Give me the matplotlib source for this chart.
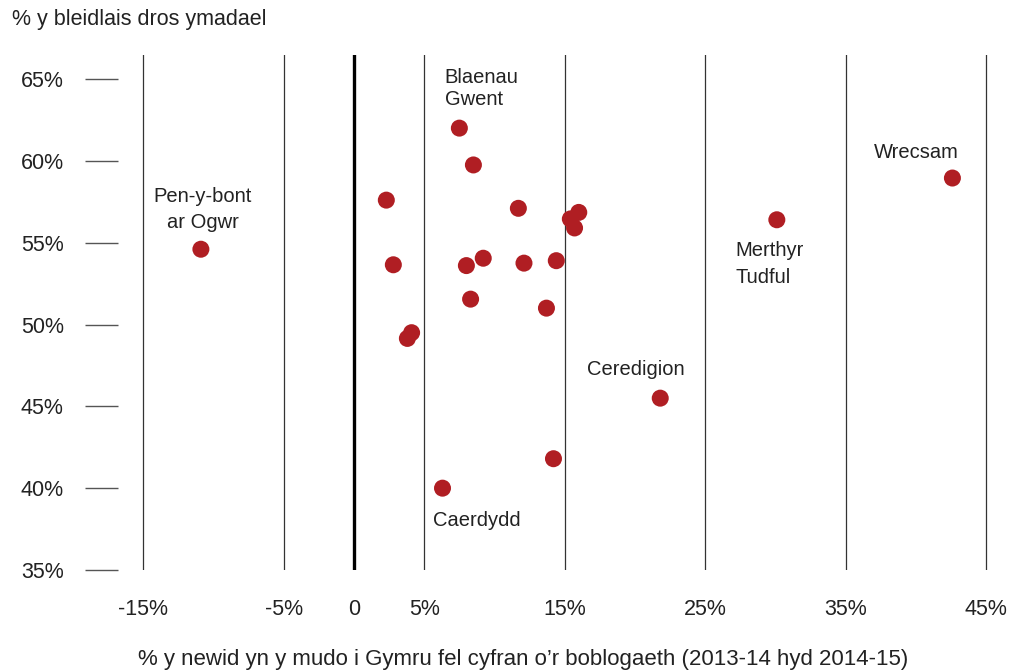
import numpy as np
import pandas as pd
import matplotlib
matplotlib.use("Agg")
import matplotlib.pyplot as plt

plt.rcParams['font.family'] = ['Liberation Sans', 'DejaVu Sans']

# newid mudo (%) a % pleidlais ymadael, fesul awdurdod lleol
mudo = [-10.9, 7.5, 8.5, 2.3, 11.7, 16.0, 15.4, 15.7, 2.8, 8.0, 9.2, 12.1,
        14.4, 8.3, 13.7, 4.1, 3.8, 21.8, 14.2, 6.3, 30.1, 42.6]
ymadael = [54.6, 62.0, 59.75, 57.6, 57.1, 56.85, 56.45, 55.9, 53.65, 53.6, 54.05, 53.75,
           53.9, 51.55, 51.0, 49.5, 49.15, 45.5, 41.8, 40.0, 56.4, 58.95]

label_text = ["Pen-y-bont\nar Ogwr", "Blaenau\nGwent", "Wrecsam",
              "Merthyr\nTudful", "Ceredigion", "Caerdydd"]
label_x = [-10.75, 6.45, 37.0, 27.15, 16.6, 5.6]
label_y = [57.05, 64.45, 60.5, 53.7, 47.25, 38.0]
label_ha = ["center", "left", "left", "left", "left", "left"]
label_ls = [1.45, 1.2, 1.2, 1.55, 1.2, 1.2]

xticks = [-15, -5, 0, 5, 15, 25, 35, 45]
xtick_labels = ["-15%", "-5%", "0", "5%", "15%", "25%", "35%", "45%"]
yticks = [35, 40, 45, 50, 55, 60, 65]

fig = plt.figure(figsize=(10.28, 6.72), dpi=100)
ax = fig.add_axes([0.1148, 0.1518, 0.8677, 0.7664])
ax.set_xlim(-16.8, 46.7)
ax.set_ylim(35, 66.47)

for x in xticks:
    if x == 0:
        ax.axvline(x, color="black", lw=2.4, zorder=1)
    else:
        ax.axvline(x, color="#333333", lw=0.9, zorder=1)

ax.scatter(mudo, ymadael, s=150, color="#b01e23", edgecolors="none", zorder=3)

for txt, x, y, ha, ls in zip(label_text, label_x, label_y, label_ha, label_ls):
    ax.text(x, y, txt, fontsize=14.5, ha=ha, va="center", color="#222222", linespacing=ls)

for s in ax.spines.values():
    s.set_visible(False)

ax.set_yticks(yticks)
ax.set_yticklabels([f"{v}%" for v in yticks], fontsize=15.5, color="#222222")
ax.tick_params(axis="y", length=24, width=1, color="#555555", pad=15)
ax.set_xticks(xticks)
ax.set_xticklabels(xtick_labels, fontsize=15.5, color="#222222")
ax.tick_params(axis="x", length=0, pad=21)

fig.text(0.012, 0.971, "% y bleidlais dros ymadael", fontsize=15.5, color="#222222", va="center")
fig.text(0.509, 0.018, "% y newid yn y mudo i Gymru fel cyfran o\u2019r boblogaeth (2013-14 hyd 2014-15)",
         fontsize=16, color="#222222", ha="center", va="center")

fig.savefig("out.png", dpi=100)
